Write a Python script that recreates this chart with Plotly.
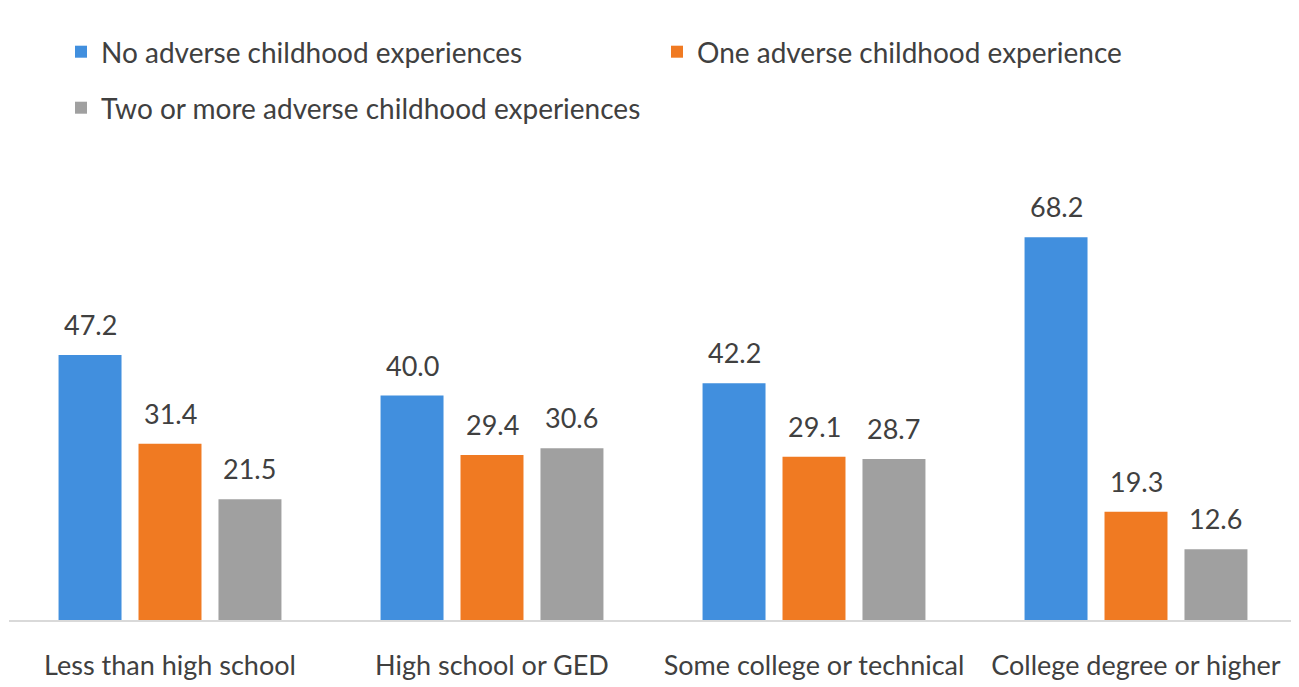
import plotly.graph_objects as go

categories = ["Less than high school", "High school or GED", "Some college or technical", "College degree or higher"]
series_names = ["No adverse childhood experiences", "One adverse childhood experience", "Two or more adverse childhood experiences"]
no_ace = [47.2, 40.0, 42.2, 68.2]
one_ace = [31.4, 29.4, 29.1, 19.3]
two_plus_ace = [21.5, 30.6, 28.7, 12.6]
colors = ["#418fde", "#f07a22", "#a0a0a0"]

FONT = "Lato"
TXT = "#404040"
W, H = 1299, 687
bargap = 0.255
series = [no_ace, one_ace, two_plus_ace]
legends = ["legend", "legend", "legend2"]

fig = go.Figure()
for name, vals, col, lg in zip(series_names, series, colors, legends):
    fig.add_trace(go.Bar(
        name=name, x=categories, y=vals, marker=dict(color=col, line=dict(width=0)),
        legend=lg,
    ))

slot = (1 - bargap) / 3
annotations = []
for j, vals in enumerate(series):
    for i, v in enumerate(vals):
        annotations.append(dict(
            x=i + (j - 1) * slot, y=v, xref="x", yref="y", text=f"{v:.1f}",
            showarrow=False, yanchor="bottom", yshift=12,
            font=dict(family=FONT, size=27, color=TXT),
        ))

fig.update_layout(
    width=W, height=H,
    margin=dict(l=1, r=10, t=163, b=75),
    paper_bgcolor="white", plot_bgcolor="white",
    barmode="group", bargap=bargap, bargroupgap=0.2125,
    font=dict(family=FONT, size=27, color=TXT),
    annotations=annotations,
    legend=dict(orientation="h", xref="container", yref="container",
                x=53 / W, y=1 - 19 / H, xanchor="left", yanchor="top",
                entrywidth=551, entrywidthmode="pixels",
                font=dict(family=FONT, size=28, color=TXT), bgcolor="rgba(0,0,0,0)"),
    legend2=dict(orientation="h", xref="container", yref="container",
                 x=53 / W, y=1 - 75 / H, xanchor="left", yanchor="top",
                 font=dict(family=FONT, size=28, color=TXT), bgcolor="rgba(0,0,0,0)"),
    xaxis=dict(showline=True, linecolor="#d9d9d9", linewidth=1.5,
               ticks="outside", ticklen=21, tickcolor="rgba(0,0,0,0)",
               tickfont=dict(family=FONT, size=27, color=TXT), showgrid=False),
    yaxis=dict(range=[0, 80], visible=False, showgrid=False),
)

fig.write_html("out.html")
